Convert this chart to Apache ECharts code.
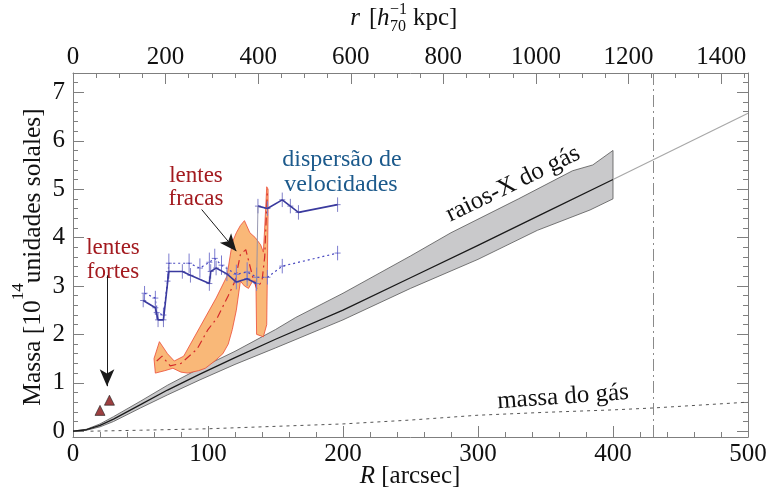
<!DOCTYPE html>
<html><head><meta charset="utf-8">
<script src="https://cdn.jsdelivr.net/npm/echarts@6/dist/echarts.min.js"></script>
<style>html,body{margin:0;padding:0;background:#fff}#c{width:767px;height:487px}</style>
</head><body><div id="c"></div>
<script>
// ---------- data ----------
const xrayR     = [0,10,20,30,40,50,70,94,120,150,200,250,300,350,400];
const xrayMass  = [0,0.03,0.12,0.25,0.4,0.55,0.85,1.18,1.52,1.9,2.5,3.17,3.84,4.52,5.2];
const xrayExtR    = [400,500];
const xrayExtMass = [5.2,6.57];
const bandUpR   = [0,10,20,30,50,70,94,120,150,165,200,250,280,330,370,385,400];
const bandUp    = [0,0.04,0.15,0.3,0.62,0.95,1.3,1.65,2.1,2.35,2.85,3.62,4.1,4.8,5.38,5.5,5.8];
const bandLoR   = [0,10,20,30,50,70,94,120,150,200,250,300,344,383,400];
const bandLo    = [0,0.02,0.09,0.2,0.48,0.75,1.06,1.38,1.72,2.3,2.95,3.55,4.15,4.57,4.8];
const gasR      = [13,50,100,150,200,250,300,350,400,430,500];
const gasMass   = [0,0.02,0.05,0.1,0.15,0.23,0.33,0.39,0.44,0.48,0.6];
const strongR   = [20,27];
const strongM   = [0.43,0.64];
const weakUpR   = [60,64,70,75,82,94,106,114,118,121,124,127,131,135,139,141,142,143.5,144.5];
const weakUp    = [1.5,1.85,1.6,1.45,1.55,2.15,2.75,3.2,3.9,4.1,4.25,4.35,4.1,4.0,3.85,3.7,4.2,5.05,5.0];
const weakLoR   = [144.5,143.5,141,136,135.5,133,130,127,124,121,118,115,111,105,98,93,85,80,74,68,61];
const weakLo    = [4.5,2.2,1.95,2.0,3.1,3.1,2.95,3.0,3.1,2.5,2.1,1.8,1.6,1.45,1.3,1.25,1.2,1.22,1.3,1.25,1.2];
const weakMidR  = [62,66,72,80,92,100,107,115,120,124,128,133,136,140,142,144];
const weakMid   = [1.45,1.55,1.35,1.4,1.7,2.1,2.35,2.8,3.1,3.65,3.75,3.2,2.95,3.1,3.6,5.0];
// velocity dispersion (solid): inner branch and outer branch
const velInR    = [52,61,63,67,71,81,87,101,102,106,114,121,129,136];
const velInM    = [2.7,2.55,2.3,2.3,3.3,3.3,3.22,3.05,3.3,3.37,3.25,3.08,3.15,3.05];
const velInErr  = [0.14,0.15,0.15,0.15,0.15,0.15,0.15,0.15,0.15,0.15,0.15,0.15,0.15,0.15];
const velOutR   = [137,144,155,161,167,196];
const velOutM   = [4.65,4.6,4.78,4.65,4.52,4.68];
const velOutErr = [0.15,0.15,0.15,0.15,0.15,0.15];
// velocity dispersion (dotted)
const vel2R     = [53,61,62,67,70,71,86,94,101,105,110,121,129,136,144,155,196];
const vel2M     = [2.85,2.75,2.45,2.4,3.1,3.47,3.47,3.37,3.49,3.57,3.43,3.24,3.29,3.18,3.18,3.41,3.68];
const vel2Err   = [0.15,0.15,0.15,0.15,0.15,0.2,0.2,0.2,0.2,0.2,0.2,0.2,0.2,0.2,0.15,0.15,0.15];
const arrowStrong = [[25.2,3.22],[25.2,0.93]];
const arrowWeak   = [[95.3,4.58],[121,3.72]];
const r200R     = 430;
const xMajor = [0,100,200,300,400,500];
const xMinor = [20,40,60,80,120,140,160,180,220,240,260,280,320,340,360,380,420,440,460,480];
const kMajor = [0,200,400,600,800,1000,1200,1400];
const kMinor = [50,100,150,250,300,350,450,500,550,650,700,750,850,900,950,1050,1100,1150,1250,1300,1350,1450];
const yMajor = [0,1,2,3,4,5,6,7];
const yMinor = [0.2,0.4,0.6,0.8,1.2,1.4,1.6,1.8,2.2,2.4,2.6,2.8,3.2,3.4,3.6,3.8,4.2,4.4,4.6,4.8,5.2,5.4,5.6,5.8,6.2,6.4,6.6,6.8,7.2];
const kpcMax = 1458;

// ---------- helpers ----------
const FONT = 'Liberation Serif';
const zip = (a,b)=>a.map((v,i)=>[v,b[i]]);
const frame = '#7f7f7f';
function axis(o){
  return Object.assign({type:'value', splitLine:{show:false},
    axisLine:{show:false, onZero:false, lineStyle:{color:frame,width:1}},
    axisTick:{show:false}, axisLabel:{show:false}}, o);
}
function xAxisPair(pos, max, major, minor, labels){
  return [
    axis({position:pos, min:0, max:max, axisLine:{show:true,onZero:false,lineStyle:{color:frame,width:1}},
      axisTick:{show:true, inside:true, length:11, customValues:major, lineStyle:{color:frame}},
      axisLabel:{show:labels, customValues:major, formatter:v=>String(v), fontFamily:FONT, fontSize:25, color:'#111', margin: pos==='top'?3:5}}),
    axis({position:pos, min:0, max:max,
      axisTick:{show:true, inside:true, length:5, customValues:minor, lineStyle:{color:frame}}})
  ];
}
function yAxisPair(pos, labels){
  return [
    axis({position:pos, min:-0.12, max:7.4, axisLine:{show:true,onZero:false,lineStyle:{color:frame,width:1}},
      axisTick:{show:true, inside:true, length:11, customValues:yMajor, lineStyle:{color:frame}},
      axisLabel:{show:labels, customValues:yMajor, formatter:v=>String(v), fontFamily:FONT, fontSize:25, color:'#111', margin:8}}),
    axis({position:pos, min:-0.12, max:7.4,
      axisTick:{show:true, inside:true, length:5, customValues:yMinor, lineStyle:{color:frame}}})
  ];
}
function polygon(pts, style, z){
  return {type:'custom', xAxisIndex:0, yAxisIndex:0, z:z, silent:true, data:[[0,0]],
    renderItem:(params, api)=>({type:'polygon', shape:{points:pts.map(p=>api.coord(p))}, style:style})};
}
function errBars(R, M, E, color, z){
  return {type:'custom', xAxisIndex:0, yAxisIndex:0, z:z, silent:true,
    data:R.map((r,i)=>[r,M[i],E[i]]),
    renderItem:(params, api)=>{
      const x=api.value(0), y=api.value(1), e=api.value(2);
      const t=api.coord([x,y+e]), b=api.coord([x,y-e]), c=api.coord([x,y]);
      return {type:'group', children:[
        {type:'line', shape:{x1:t[0],y1:t[1],x2:b[0],y2:b[1]}, style:{stroke:color,lineWidth:1}},
        {type:'line', shape:{x1:c[0]-3,y1:c[1],x2:c[0]+3,y2:c[1]}, style:{stroke:color,lineWidth:1}}
      ]};
    }};
}
function line(data, style, z, extra){
  return Object.assign({type:'line', xAxisIndex:0, yAxisIndex:0, data:data, showSymbol:false, symbol:'none',
    silent:true, z:z, lineStyle:style}, extra||{});
}

const bandPts = zip(bandUpR, bandUp).concat(zip(bandLoR, bandLo).reverse());
const weakPts = zip(weakUpR, weakUp).concat(zip(weakLoR, weakLo));
const velJoin = [[velInR[velInR.length-1], velInM[velInM.length-1]], [velOutR[0], velOutM[0]]];

const red = '#a31a1f', blue = '#1c5a8c';
const txt = (x,y,text,color,size,rot)=>({type:'text', x:x, y:y, silent:true, rotation:(rot||0)*Math.PI/180,
  style:{text:text, fill:color, font:size+'px "'+FONT+'"', align:'center', verticalAlign:'middle'}});

const chart = echarts.init(document.getElementById('c'), null, {renderer:'canvas'});
chart.setOption({
  animation:false,
  backgroundColor:'#fff',
  grid:{left:73, right:19, top:73, bottom:50, containLabel:false, outerBoundsMode:'none'},
  xAxis:[].concat(xAxisPair('bottom',500,xMajor,xMinor,true), xAxisPair('top',kpcMax,kMajor,kMinor,true)),
  yAxis:[].concat(yAxisPair('left',true), yAxisPair('right',false)),
  series:[
    polygon(bandPts, {fill:'#c9c9cb', stroke:'#555', lineWidth:0.8}, 2),
    line(zip(xrayR, xrayMass), {color:'#1a1a1a', width:1.3}, 3),
    line(zip(xrayExtR, xrayExtMass), {color:'#a8a8a8', width:1.2}, 3),
    line(zip(gasR, gasMass), {color:'#555', width:1, type:[3,4]}, 3, {
      markLine:{silent:true, symbol:'none', label:{show:false},
        lineStyle:{color:'#8a8a8a', width:1, type:[12,4,2,4]}, data:[{xAxis:r200R}]}}),
    polygon(weakPts, {fill:'#f9b878', stroke:'#ec4a35', lineWidth:0.8}, 4),
    line(zip(weakMidR, weakMid), {color:'#d42a2a', width:1.2, type:[8,4,2,4]}, 5),
    errBars(vel2R, vel2M, vel2Err, '#7c7cd0', 6),
    line(zip(vel2R, vel2M), {color:'#4848c0', width:1.2, type:[2,3]}, 6),
    errBars(velInR, velInM, velInErr, '#8080c8', 7),
    errBars(velOutR, velOutM, velOutErr, '#8080c8', 7),
    line(zip(velInR, velInM), {color:'#3a3a9e', width:1.6}, 7),
    line(zip(velOutR, velOutM), {color:'#3a3a9e', width:1.6}, 7),
    line(velJoin, {color:'#8c8ca8', width:0.9}, 7),
    {type:'scatter', xAxisIndex:0, yAxisIndex:0, z:8, silent:true, data:zip(strongR, strongM),
      symbol:'triangle', symbolSize:10, itemStyle:{color:'#840f10', borderColor:'#222', borderWidth:0.8},
      markLine:{silent:true, symbol:['none','arrow'], symbolSize:[11,17], label:{show:false},
        itemStyle:{color:'#1a1a1a'}, lineStyle:{color:'#1a1a1a', width:1, type:'solid'},
        data:[[{coord:arrowStrong[0]},{coord:arrowStrong[1]}],[{coord:arrowWeak[0]},{coord:arrowWeak[1]}]]}}
  ],
  graphic:[
    txt(113,248,'lentes',red,23), txt(113,272,'fortes',red,23),
    txt(196,176,'lentes',red,23), txt(196,199,'fracas',red,23),
    txt(342,160,'dispersão de',blue,24), txt(341,185,'velocidades',blue,24),
    txt(513,184,'raios-X do gás','#111',25,26),
    txt(563,397,'massa do gás','#111',25,4),
    {type:'text', x:410, y:476, silent:true, style:{text:'{i|R} [arcsec]', font:'25px "'+FONT+'"', fill:'#111', align:'center', verticalAlign:'middle',
      rich:{i:{fontStyle:'italic', fontFamily:FONT, fontSize:25}}}},
    {type:'text', x:28, y:257, rotation:Math.PI/2, silent:true, style:{text:'{n|Massa [10}{s|14}{n|unidades solales]}', align:'center', verticalAlign:'middle', fill:'#111',
      rich:{n:{fontFamily:FONT, fontSize:25.5, lineHeight:36, verticalAlign:'bottom'}, s:{fontFamily:FONT, fontSize:17, lineHeight:36, verticalAlign:'top'}}}},
    {type:'group', x:410, y:18, silent:true, children:[
      {type:'text', x:-50, y:0, style:{text:'r', font:'italic 25px "'+FONT+'"', fill:'#111', align:'right', verticalAlign:'middle'}},
      {type:'text', x:-41, y:0, style:{text:'[', font:'25px "'+FONT+'"', fill:'#111', align:'left', verticalAlign:'middle'}},
      {type:'text', x:-33, y:0, style:{text:'h', font:'italic 25px "'+FONT+'"', fill:'#111', align:'left', verticalAlign:'middle'}},
      {type:'text', x:-20, y:-8, style:{text:'−1', font:'16px "'+FONT+'"', fill:'#111', align:'left', verticalAlign:'middle'}},
      {type:'text', x:-20, y:9, style:{text:'70', font:'16px "'+FONT+'"', fill:'#111', align:'left', verticalAlign:'middle'}},
      {type:'text', x:3, y:0, style:{text:'kpc]', font:'25px "'+FONT+'"', fill:'#111', align:'left', verticalAlign:'middle'}}
    ]}
  ]
});
</script></body></html>
